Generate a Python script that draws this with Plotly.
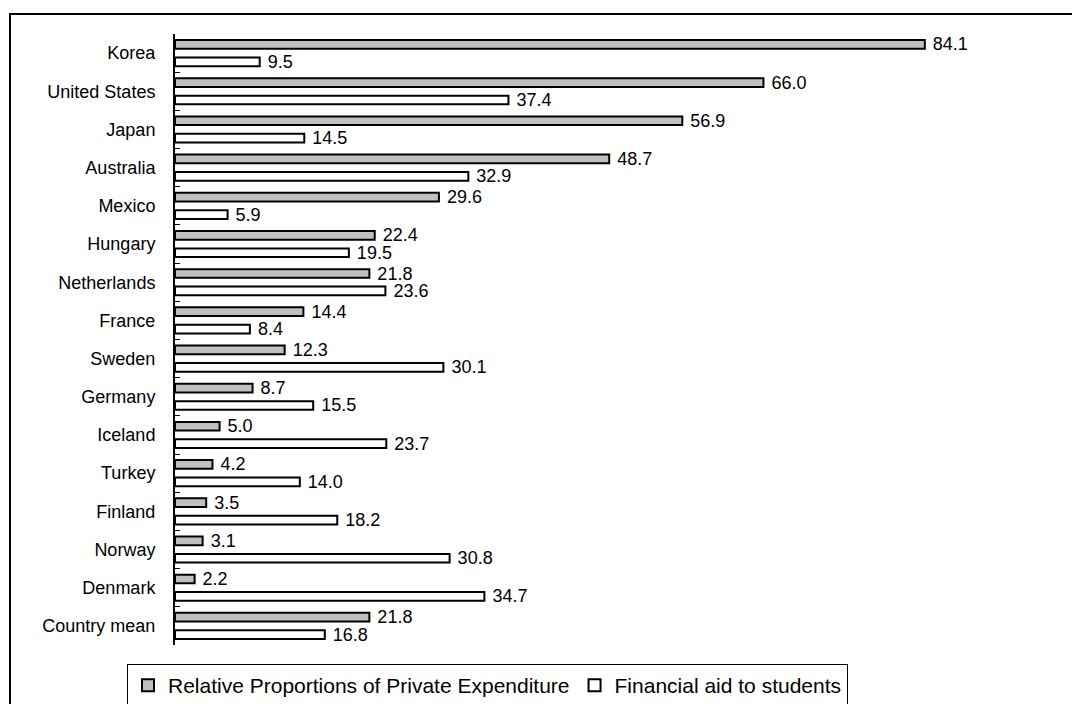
import plotly.graph_objects as go

countries = ["Korea", "United States", "Japan", "Australia", "Mexico", "Hungary",
             "Netherlands", "France", "Sweden", "Germany", "Iceland", "Turkey",
             "Finland", "Norway", "Denmark", "Country mean"]
private_exp = [84.1, 66.0, 56.9, 48.7, 29.6, 22.4, 21.8, 14.4, 12.3, 8.7, 5.0, 4.2,
               3.5, 3.1, 2.2, 21.8]
financial_aid = [9.5, 37.4, 14.5, 32.9, 5.9, 19.5, 23.6, 8.4, 30.1, 15.5, 23.7, 14.0,
                 18.2, 30.8, 34.7, 16.8]
series_names = ["Relative Proportions of Private Expenditure", "Financial aid to students"]

FONT = "Liberation Sans, Arial, sans-serif"
W, H = 1072, 704
L, R, T, B = 175, 50, 34, 59
pw, ph = W - L - R, H - T - B

def px_x(px):
    return (px - L) / pw

def px_y(py):
    return (H - B - py) / ph

fig = go.Figure()
fig.add_trace(go.Bar(
    y=countries, x=private_exp, orientation="h", name=series_names[0],
    marker=dict(color="#c0c0c0", line=dict(color="black", width=2)),
    texttemplate="\u00a0%{x:.1f}", textposition="outside", constraintext="none",
    textfont=dict(family=FONT, size=18, color="black"), cliponaxis=False,
))
fig.add_trace(go.Bar(
    y=countries, x=financial_aid, orientation="h", name=series_names[1],
    marker=dict(color="#ffffff", line=dict(color="black", width=2)),
    texttemplate="\u00a0%{x:.1f}", textposition="outside", constraintext="none",
    textfont=dict(family=FONT, size=18, color="black"), cliponaxis=False,
))

fig.update_layout(
    width=W, height=H,
    margin=dict(l=L, r=R, t=T, b=B, autoexpand=False),
    paper_bgcolor="white", plot_bgcolor="white",
    barmode="group", bargap=0.09, bargroupgap=0.5,
    font=dict(family=FONT, size=18, color="black"),
    showlegend=True,
    legend=dict(
        orientation="h", x=px_x(127), y=px_y(664), xanchor="left", yanchor="top",
        bordercolor="black", borderwidth=1, bgcolor="white",
        font=dict(family=FONT, size=21, color="black"),
        itemwidth=30, tracegroupgap=0,
    ),
    xaxis=dict(range=[0, 95], visible=False, showgrid=False, zeroline=False),
    yaxis=dict(
        autorange="reversed", showgrid=False, zeroline=False,
        showline=True, linecolor="black", linewidth=2,
        ticks="inside", tickson="boundaries", ticklen=5, tickwidth=1, tickcolor="black",
        ticklabelstandoff=14,
        tickfont=dict(family=FONT, size=18, color="black"),
    ),
    shapes=[dict(
        type="rect", xref="paper", yref="paper",
        x0=px_x(10), x1=px_x(1090), y0=px_y(14), y1=px_y(730),
        line=dict(color="black", width=2), fillcolor="rgba(0,0,0,0)", layer="below",
    )],
)

fig.write_html("out.html")
